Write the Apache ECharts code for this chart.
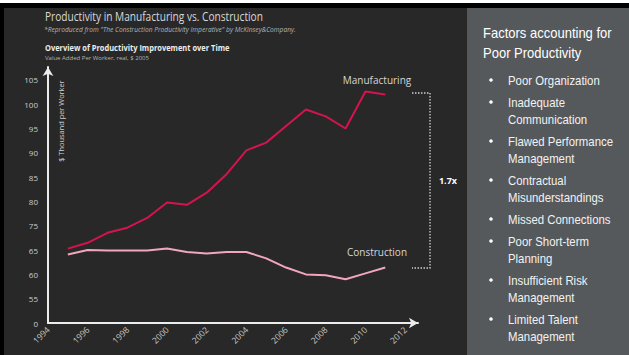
<!DOCTYPE html>
<html>
<head>
<meta charset="utf-8">
<script src="https://cdn.jsdelivr.net/npm/echarts@6/dist/echarts.min.js"></script>
<style>
html,body{margin:0;padding:0;background:#000;}
#chart{width:629px;height:355px;}
</style>
</head>
<body>
<div id="chart"></div>
<script>
// ---- data ----
const years = [1995,1996,1997,1998,1999,2000,2001,2002,2003,2004,2005,2006,2007,2008,2009,2010,2011];
const manufacturing = [65.6,68.0,72.1,74.2,76.6,79.8,79.3,81.8,85.6,90.5,92.1,95.5,98.9,97.5,95.0,102.6,102.0];
const construction  = [64.1,65.0,64.9,64.9,64.9,65.6,64.6,64.3,64.6,64.6,63.3,61.4,60.0,59.8,59.0,60.2,61.4];
const yTickLabels = [0,55,60,65,75,80,85,90,95,100,105];
const xTickLabels = [1994,1996,1998,2000,2002,2004,2006,2008,2010,2012];
const factors = [
  ["Poor Organization"],
  ["Inadequate","Communication"],
  ["Flawed Performance","Management"],
  ["Contractual","Misunderstandings"],
  ["Missed Connections"],
  ["Poor Short-term","Planning"],
  ["Insufficient Risk","Management"],
  ["Limited Talent","Management"]
];

// map a value onto the (broken) tick-index scale of the y axis
function toIdx(v){
  for(let i=0;i<yTickLabels.length-1;i++){
    const a=yTickLabels[i], b=yTickLabels[i+1];
    if(v>=a && v<=b) return i+(v-a)/(b-a);
  }
  return v>yTickLabels[yTickLabels.length-1] ? yTickLabels.length-1 : 0;
}

const chart = echarts.init(document.getElementById('chart'), null, {renderer:'svg'});
const lblFont = '"Open Sans", "Noto Sans", sans-serif';
const panelFont = '"Liberation Sans", Arial, sans-serif';

const graphics = [
  {type:'rect', z:-10, shape:{x:0,y:0,width:629,height:3}, style:{fill:'#ffffff'}},
  {type:'rect', z:-10, shape:{x:4,y:8,width:463,height:347}, style:{fill:'#282828'}},
  {type:'rect', z:-10, shape:{x:467,y:8,width:162,height:347}, style:{fill:'#55595c'}},
  {type:'text', x:45, y:16, scaleX:0.78, style:{text:'Productivity in Manufacturing vs. Construction', fill:'#d8d8d8', font:'13px '+lblFont, verticalAlign:'middle'}},
  {type:'text', x:44, y:29, scaleX:0.95, style:{text:'*Reproduced from "The Construction Productivity Imperative" by McKinsey&Company.', fill:'#b4b4b4', font:'italic 7px '+lblFont, verticalAlign:'middle'}},
  {type:'text', x:45, y:47.5, scaleX:0.87, style:{text:'Overview of Productivity Improvement over Time', fill:'#ececec', font:'bold 8.6px '+lblFont, verticalAlign:'middle'}},
  {type:'text', x:45, y:57.5, style:{text:'Value Added Per Worker, real, $ 2005', fill:'#b4b4b4', font:'6px '+lblFont, verticalAlign:'middle'}},
  {type:'text', x:61, y:121, rotation:Math.PI/2, style:{text:'$ Thousand per Worker', fill:'#d0d0d0', font:'7.4px '+lblFont, align:'center', verticalAlign:'middle'}},
  {type:'text', x:377, y:80, style:{text:'Manufacturing', fill:'#d6d6d6', font:'10px '+lblFont, align:'center', verticalAlign:'middle'}},
  {type:'text', x:377, y:252, style:{text:'Construction', fill:'#d6d6d6', font:'10px '+lblFont, align:'center', verticalAlign:'middle'}},
  {type:'polyline', shape:{points:[[412,93],[430,93],[430,268],[412,268]]}, style:{stroke:'#d0d0d0', lineWidth:1.3, lineDash:[1.5,1.5], fill:null}},
  {type:'text', x:448, y:180, style:{text:'1.7x', fill:'#ffffff', font:'bold 9px '+lblFont, align:'center', verticalAlign:'middle'}},
  {type:'text', x:483, y:33, scaleX:0.93, style:{text:'Factors accounting for', fill:'#ffffff', font:'14px '+panelFont, verticalAlign:'middle'}},
  {type:'text', x:483, y:53, scaleX:0.93, style:{text:'Poor Productivity', fill:'#ffffff', font:'14px '+panelFont, verticalAlign:'middle'}}
];
let yy = 80;
factors.forEach(function(item){
  graphics.push({type:'circle', shape:{cx:491, cy:yy, r:1.8}, style:{fill:'#ffffff'}});
  item.forEach(function(line, j){
    graphics.push({type:'text', x:508, y:yy + j*17, scaleX:0.95, style:{text:line, fill:'#f2f2f2', font:'12px '+panelFont, verticalAlign:'middle'}});
  });
  yy += (item.length-1)*17 + 22;
});

chart.setOption({
  animation:false,
  backgroundColor:'#000000',
  grid:{left:48, right:211, top:67, bottom:32},
  xAxis:{
    type:'value', min:1994, max:2012.65, interval:2,
    axisLine:{show:true, symbol:['none','arrow'], symbolSize:[8,9], lineStyle:{color:'#ececec', width:2}},
    axisTick:{show:false}, splitLine:{show:false},
    axisLabel:{rotate:45, margin:5, color:'#cccccc', fontSize:8.5, fontFamily:lblFont,
      formatter:function(v){ return xTickLabels.indexOf(v)>=0 ? String(v) : ''; }}
  },
  yAxis:{
    type:'value', min:0, max:10.53, interval:1,
    axisLine:{show:true, symbol:['none','arrow'], symbolSize:[8,9], lineStyle:{color:'#ececec', width:2}},
    axisTick:{show:false}, splitLine:{show:false},
    axisLabel:{margin:10, color:'#cccccc', fontSize:8, fontFamily:lblFont,
      formatter:function(v){ return Number.isInteger(v) && yTickLabels[v]!==undefined ? String(yTickLabels[v]) : ''; }}
  },
  series:[
    {type:'line', name:'Manufacturing', showSymbol:false, lineStyle:{color:'#d5144f', width:2}, itemStyle:{color:'#d5144f'},
     data: years.map(function(y,i){ return [y, toIdx(manufacturing[i])]; })},
    {type:'line', name:'Construction', showSymbol:false, lineStyle:{color:'#f2a6bd', width:2}, itemStyle:{color:'#f2a6bd'},
     data: years.map(function(y,i){ return [y, toIdx(construction[i])]; })}
  ],
  graphic: graphics
});
</script>
</body>
</html>
